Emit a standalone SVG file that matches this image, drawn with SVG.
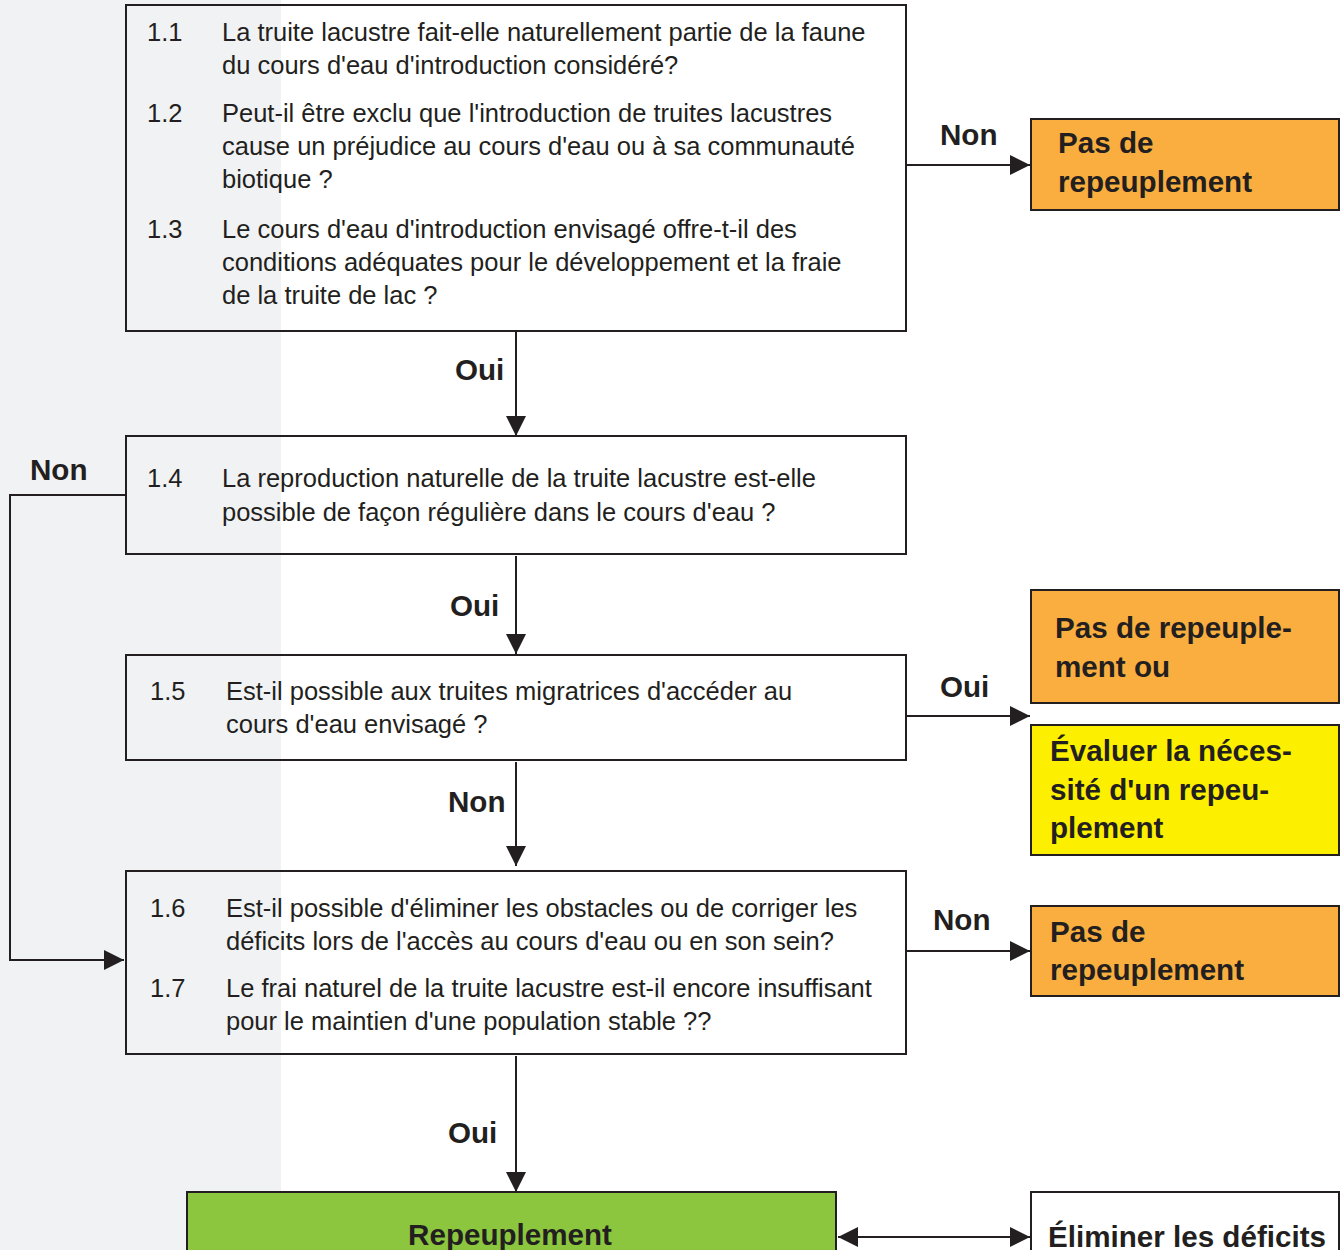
<svg xmlns="http://www.w3.org/2000/svg" width="1341" height="1250" viewBox="0 0 1341 1250">
<defs>
<marker id="ah" viewBox="0 0 20 20" refX="20" refY="10" markerWidth="20" markerHeight="20" markerUnits="userSpaceOnUse" orient="auto-start-reverse">
<path d="M0,0 L20,10 L0,20 Z" fill="#231f20"/>
</marker>
<style>
.q{fill:none;stroke:#231f20;stroke-width:2}
.r{stroke:#231f20;stroke-width:2}
.t{font-family:"Liberation Sans",Arial,sans-serif;font-size:25.5px;fill:#231f20}
.b{font-family:"Liberation Sans",Arial,sans-serif;font-size:29.6px;font-weight:bold;fill:#231f20}
.c{fill:none;stroke:#231f20;stroke-width:2}
</style>
</defs>
<rect x="0" y="0" width="1341" height="1250" fill="#ffffff"/>
<rect x="0" y="0" width="281" height="1250" fill="#f1f2f4"/>

<g id="connectors">
<line class="c" x1="906" y1="165" x2="1030" y2="165" marker-end="url(#ah)"/>
<line class="c" x1="516" y1="332" x2="516" y2="436" marker-end="url(#ah)"/>
<polyline class="c" points="126,495 10,495 10,960 124,960" marker-end="url(#ah)"/>
<line class="c" x1="516" y1="556" x2="516" y2="654" marker-end="url(#ah)"/>
<line class="c" x1="906" y1="716" x2="1030" y2="716" marker-end="url(#ah)"/>
<line class="c" x1="516" y1="762" x2="516" y2="866" marker-end="url(#ah)"/>
<line class="c" x1="906" y1="951" x2="1030" y2="951" marker-end="url(#ah)"/>
<line class="c" x1="516" y1="1056" x2="516" y2="1192" marker-end="url(#ah)"/>
<line class="c" x1="838" y1="1237" x2="1030" y2="1237" marker-start="url(#ah)" marker-end="url(#ah)"/>
<text class="b" x="940" y="145">Non</text>
<text class="b" x="455" y="380">Oui</text>
<text class="b" x="30" y="480">Non</text>
<text class="b" x="450" y="616">Oui</text>
<text class="b" x="940" y="697">Oui</text>
<text class="b" x="448" y="812">Non</text>
<text class="b" x="933" y="930">Non</text>
<text class="b" x="448" y="1143">Oui</text>
</g>

<g id="q1">
<rect class="q" x="126" y="5" width="780" height="326"/>
<text class="t" x="147" y="41">1.1</text>
<text class="t" x="222" y="41">La truite lacustre fait-elle naturellement partie de la faune</text>
<text class="t" x="222" y="74">du cours d'eau d'introduction considéré?</text>
<text class="t" x="147" y="122">1.2</text>
<text class="t" x="222" y="122">Peut-il être exclu que l'introduction de truites lacustres</text>
<text class="t" x="222" y="155">cause un préjudice au cours d'eau ou à sa communauté</text>
<text class="t" x="222" y="188">biotique ?</text>
<text class="t" x="147" y="238">1.3</text>
<text class="t" x="222" y="238">Le cours d'eau d'introduction envisagé offre-t-il des</text>
<text class="t" x="222" y="271">conditions adéquates pour le développement et la fraie</text>
<text class="t" x="222" y="304">de la truite de lac ?</text>
</g>

<g id="r1">
<rect class="r" x="1031" y="119" width="308" height="91" fill="#f9ae3f"/>
<text class="b" x="1058" y="153">Pas de</text>
<text class="b" x="1058" y="192">repeuplement</text>
</g>

<g id="q2">
<rect class="q" x="126" y="436" width="780" height="118"/>
<text class="t" x="147" y="487">1.4</text>
<text class="t" x="222" y="487">La reproduction naturelle de la truite lacustre est-elle</text>
<text class="t" x="222" y="521">possible de façon régulière dans le cours d'eau ?</text>
</g>

<g id="q3">
<rect class="q" x="126" y="655" width="780" height="105"/>
<text class="t" x="150" y="700">1.5</text>
<text class="t" x="226" y="700">Est-il possible aux truites migratrices d'accéder au</text>
<text class="t" x="226" y="733">cours d'eau envisagé ?</text>
</g>

<g id="r2">
<rect class="r" x="1031" y="590" width="308" height="113" fill="#f9ae3f"/>
<text class="b" x="1055" y="638">Pas de repeuple-</text>
<text class="b" x="1055" y="677">ment ou</text>
</g>

<g id="r3">
<rect class="r" x="1031" y="725" width="308" height="130" fill="#fdef00"/>
<text class="b" x="1050" y="761">Évaluer la néces-</text>
<text class="b" x="1050" y="800">sité d'un repeu-</text>
<text class="b" x="1050" y="838">plement</text>
</g>

<g id="q4">
<rect class="q" x="126" y="871" width="780" height="183"/>
<text class="t" x="150" y="917">1.6</text>
<text class="t" x="226" y="917">Est-il possible d'éliminer les obstacles ou de corriger les</text>
<text class="t" x="226" y="950">déficits lors de l'accès au cours d'eau ou en son sein?</text>
<text class="t" x="150" y="997">1.7</text>
<text class="t" x="226" y="997">Le frai naturel de la truite lacustre est-il encore insuffisant</text>
<text class="t" x="226" y="1030">pour le maintien d'une population stable ??</text>
</g>

<g id="r4">
<rect class="r" x="1031" y="906" width="308" height="90" fill="#f9ae3f"/>
<text class="b" x="1050" y="942">Pas de</text>
<text class="b" x="1050" y="980">repeuplement</text>
</g>

<g id="r5">
<rect class="r" x="187" y="1192" width="649" height="70" fill="#8cc63f"/>
<text class="b" x="510" y="1245" text-anchor="middle">Repeuplement</text>
</g>

<g id="r6">
<rect class="r" x="1031" y="1192" width="308" height="70" fill="#ffffff"/>
<text class="b" x="1048" y="1247">Éliminer les déficits</text>
</g>
</svg>
